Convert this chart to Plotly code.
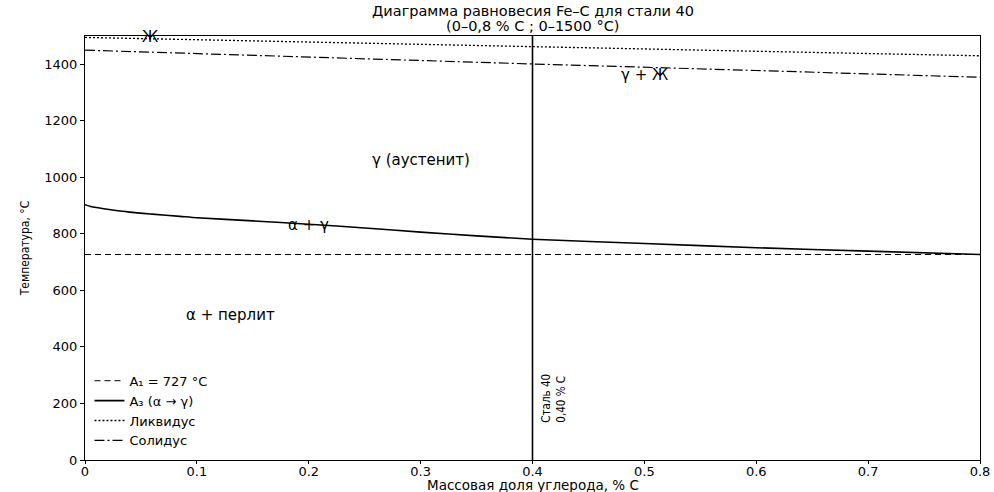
import plotly.graph_objects as go

carbon = [0.0, 0.005, 0.01, 0.02, 0.04, 0.06, 0.085, 0.1, 0.15, 0.2, 0.25, 0.3, 0.35, 0.4, 0.5, 0.6, 0.7, 0.8]
a3_temp = [903, 897, 893, 887, 877, 870, 862, 857, 846, 834, 821, 806, 793, 781, 766, 751, 739, 727]
liq_x = [0.0, 0.2, 0.4, 0.6, 0.8]
liq_temp = [1495, 1478, 1462, 1446, 1430]
sol_x = [0.0, 0.2, 0.4, 0.6, 0.8]
sol_temp = [1450, 1425, 1401, 1378, 1354]
a1_x = [0.0, 0.8]
a1_temp = [727, 727]
steel_c = 0.40
x_ticks = [0, 0.1, 0.2, 0.3, 0.4, 0.5, 0.6, 0.7, 0.8]
y_ticks = [0, 200, 400, 600, 800, 1000, 1200, 1400]

font = "DejaVu Sans"
narrow = "Liberation Sans Narrow, DejaVu Sans Condensed, DejaVu Sans"
fig = go.Figure()
fig.add_trace(go.Scatter(x=a1_x, y=a1_temp, mode="lines", name="A₁ = 727 °C",
                         line=dict(color="black", width=1, dash="6px,4px")))
fig.add_trace(go.Scatter(x=carbon, y=a3_temp, mode="lines", name="A₃ (α → γ)",
                         line=dict(color="black", width=1.6, shape="spline", smoothing=0.6)))
fig.add_trace(go.Scatter(x=liq_x, y=liq_temp, mode="lines", name="Ликвидус",
                         line=dict(color="black", width=1.3, dash="2px,2px")))
fig.add_trace(go.Scatter(x=sol_x, y=sol_temp, mode="lines", name="Солидус",
                         line=dict(color="black", width=1.2, dash="10px,3px,2px,3px")))
fig.add_trace(go.Scatter(x=[steel_c, steel_c], y=[0, 1500], mode="lines", showlegend=False,
                         line=dict(color="black", width=1.6)))

ann = [
    dict(x=0.058, y=1495, text="Ж"),
    dict(x=0.5, y=1362, text="γ + Ж"),
    dict(x=0.3, y=1060, text="γ (аустенит)"),
    dict(x=0.2, y=831, text="α + γ"),
    dict(x=0.13, y=512, text="α + перлит"),
]
for a in ann:
    fig.add_annotation(x=a["x"], y=a["y"], text=a["text"], showarrow=False,
                       font=dict(family=font, size=15, color="black"))
fig.add_annotation(x=0.404, y=125, text="Сталь 40<br>0,40 % C", showarrow=False,
                   textangle=-90, xanchor="left", yanchor="bottom", align="left",
                   font=dict(family=narrow, size=11.5, color="black"))

# title as two lines
fig.add_annotation(xref="paper", yref="paper", x=0.5, y=1, yshift=25, yanchor="middle",
                   text="Диаграмма равновесия Fe–C для стали 40", showarrow=False,
                   font=dict(family=font, size=14.5, color="black"))
fig.add_annotation(xref="paper", yref="paper", x=0.5, y=1, yshift=10, yanchor="middle",
                   text="(0–0,8 % C ; 0–1500 °C)", showarrow=False,
                   font=dict(family=font, size=14.5, color="black"))
# x-axis title
fig.add_annotation(xref="paper", yref="paper", x=0.5, y=0, yshift=-25, yanchor="middle",
                   text="Массовая доля углерода, % C", showarrow=False,
                   font=dict(family=font, size=13.5, color="black"))

fig.update_layout(
    width=994, height=492,
    margin=dict(l=85, r=14, t=36, b=32, autoexpand=False),
    plot_bgcolor="white", paper_bgcolor="white",
    font=dict(family=font, size=14, color="black"),
    legend=dict(x=0.005, y=0.01, xanchor="left", yanchor="bottom", bgcolor="rgba(255,255,255,0.8)",
                font=dict(family=font, size=13), tracegroupgap=0, itemwidth=30),
    showlegend=True,
)
fig.update_xaxes(range=[0, 0.8], tickvals=x_ticks, ticktext=[str(v) for v in x_ticks],
                 automargin=False, ticklabelstandoff=-4,
                 showgrid=False, zeroline=False, showline=True, linecolor="black", linewidth=1,
                 mirror=True, ticks="outside", ticklen=3, tickcolor="black",
                 tickfont=dict(family=font, size=13))
fig.update_yaxes(range=[0, 1500], tickvals=y_ticks, automargin=False,
                 showgrid=False, zeroline=False, showline=True, linecolor="black", linewidth=1,
                 mirror=True, ticks="outside", ticklen=4, tickcolor="black",
                 tickfont=dict(family=font, size=13),
                 title=dict(text="Температура, °C", standoff=12,
                            font=dict(family=narrow, size=12)))
fig.write_html("out.html")
